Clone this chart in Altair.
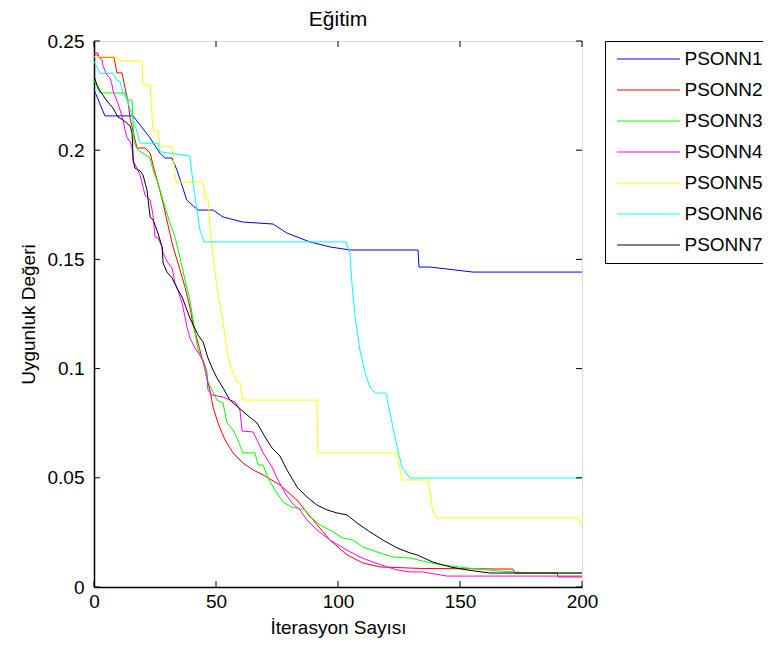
import altair as alt
import pandas as pd

series_names = ["PSONN1", "PSONN2", "PSONN3", "PSONN4", "PSONN5", "PSONN6", "PSONN7"]
colors = ["#0000ff", "#ff0000", "#00ff00", "#ff00ff", "#ffff00", "#00ffff", "#000000"]

x_ticks = [0, 50, 100, 150, 200]
y_ticks = [0, 0.05, 0.1, 0.15, 0.2, 0.25]

p1_x = [0, 4.5, 16, 18.9, 23, 27, 29, 32, 34, 38, 42.6, 48.8, 52.9, 61, 73.4, 79, 88.5, 96.7, 105, 132.8, 133.2, 137.7, 144.7, 155.3, 200]
p1_y = [0.2277, 0.2157, 0.2157, 0.2115, 0.2056, 0.1987, 0.1964, 0.1964, 0.1909, 0.1772, 0.1726, 0.1726, 0.1694, 0.1671, 0.1662, 0.1621, 0.158, 0.1557, 0.1543, 0.1543, 0.1465, 0.1465, 0.1456, 0.1442, 0.1442]

p2_x = [0, 1.6, 2, 8.2, 9.4, 11.5, 12.7, 13.9, 14.8, 16, 17.6, 20.9, 23, 24.2, 26.2, 28.3, 30.3, 32.4, 34.4, 37.3, 39.3, 40.6, 43.4, 45.5, 47.5, 48.8, 50.8, 53.7, 57, 61, 65.2, 69.3, 76.2, 83.2, 89.8, 96.7, 103.7, 110.2, 117.2, 133.6, 171.7, 172.5, 189.8, 190.2, 200]
p2_y = [0.2445, 0.2445, 0.2425, 0.2425, 0.2354, 0.2354, 0.2285, 0.2225, 0.2147, 0.2088, 0.201, 0.201, 0.1987, 0.1932, 0.185, 0.1758, 0.1658, 0.1557, 0.1484, 0.1374, 0.1282, 0.12, 0.1085, 0.0994, 0.0902, 0.0824, 0.0751, 0.0673, 0.0614, 0.0568, 0.0536, 0.0513, 0.0467, 0.0398, 0.0307, 0.0215, 0.0147, 0.011, 0.0092, 0.0085, 0.0082, 0.0064, 0.0064, 0.0046, 0.0046]

p3_x = [0, 2.5, 12.7, 13.9, 15.6, 16.4, 18, 23, 24.2, 26.2, 29.1, 31.1, 33.2, 35.2, 37.3, 39.3, 40.6, 42.6, 44.7, 46.3, 48.4, 50.4, 52.9, 54.5, 57, 59, 61, 66, 67.2, 69.3, 71.3, 74.2, 77.5, 81.1, 86.5, 87.7, 92.6, 96.7, 102, 106.1, 110.2, 117.2, 122.5, 129.5, 136.5, 143, 152.9, 166.4, 178.7, 200]
p3_y = [0.2321, 0.2262, 0.2262, 0.223, 0.223, 0.2033, 0.2001, 0.1964, 0.1909, 0.185, 0.174, 0.1667, 0.1603, 0.1511, 0.1406, 0.1314, 0.1223, 0.1085, 0.1039, 0.0948, 0.0902, 0.0856, 0.0842, 0.0751, 0.0719, 0.0673, 0.0614, 0.0614, 0.0559, 0.0559, 0.0499, 0.0444, 0.0389, 0.0366, 0.0353, 0.033, 0.0284, 0.0261, 0.0224, 0.0215, 0.0183, 0.0156, 0.0137, 0.0133, 0.0114, 0.0101, 0.0087, 0.0073, 0.0064, 0.0064]

p4_x = [0, 1.6, 3.3, 3.7, 5.3, 6.6, 7.4, 7.8, 8.6, 9.8, 10.7, 11.9, 12.7, 13.5, 14.8, 15.6, 16, 17.6, 18.9, 20.9, 23, 24.2, 25, 26.2, 27.9, 28.3, 30.3, 32, 33.2, 34.4, 36.1, 37.3, 38.1, 39.3, 41.4, 43.4, 45.5, 46.3, 46.7, 48.4, 52.9, 55.7, 57.8, 59.8, 60.7, 65.2, 67.2, 69.3, 73, 75.4, 78.3, 81.1, 84.4, 87.3, 91.4, 96.7, 103.7, 109, 114.3, 120.1, 124.2, 129.5, 134.8, 144.7, 200]
p4_y = [0.2445, 0.2431, 0.2413, 0.2385, 0.2344, 0.233, 0.2299, 0.2271, 0.2248, 0.2216, 0.2184, 0.2138, 0.2093, 0.2056, 0.2042, 0.201, 0.1951, 0.1918, 0.1886, 0.1795, 0.1772, 0.1703, 0.1603, 0.1598, 0.1557, 0.1529, 0.1484, 0.146, 0.1392, 0.136, 0.13, 0.1236, 0.119, 0.114, 0.1094, 0.1062, 0.1016, 0.098, 0.0902, 0.0879, 0.087, 0.0856, 0.0847, 0.081, 0.0714, 0.071, 0.0664, 0.0614, 0.0549, 0.049, 0.043, 0.0385, 0.0353, 0.0307, 0.0261, 0.0215, 0.0169, 0.0137, 0.0114, 0.0092, 0.0078, 0.0069, 0.0069, 0.005, 0.005]

p5_x = [0, 9.4, 10.7, 19.7, 20.1, 23, 24.2, 26.2, 27, 32, 33.6, 44.7, 45.5, 46.7, 47.5, 48.8, 50.8, 52.5, 52.9, 54.9, 57, 58.6, 59.8, 61, 91.4, 91.8, 124.2, 126.2, 136.9, 138.9, 140.6, 198.4, 200]
p5_y = [0.2427, 0.2427, 0.2408, 0.2408, 0.2299, 0.2299, 0.2088, 0.2088, 0.2015, 0.2015, 0.1854, 0.1854, 0.1781, 0.1781, 0.1648, 0.1511, 0.1346, 0.1236, 0.1209, 0.1053, 0.098, 0.0939, 0.0939, 0.0856, 0.0856, 0.0614, 0.0614, 0.049, 0.049, 0.0343, 0.0316, 0.0316, 0.0275]

p6_x = [0, 2.5, 7.8, 9.4, 10.7, 11.9, 13.5, 15.6, 16.8, 18.9, 26.2, 27, 39.3, 40.6, 42.2, 43.4, 45.1, 103.3, 104.9, 105.7, 107, 109, 111.1, 113.1, 115.2, 119.7, 121.3, 124.2, 126.2, 129.5, 200]
p6_y = [0.2408, 0.2352, 0.2352, 0.2321, 0.2314, 0.2261, 0.223, 0.2161, 0.2115, 0.2032, 0.2032, 0.1993, 0.1973, 0.185, 0.1726, 0.1635, 0.158, 0.158, 0.1529, 0.1392, 0.1236, 0.1085, 0.098, 0.0916, 0.0888, 0.0888, 0.0797, 0.0641, 0.0549, 0.0499, 0.0499]

p7_x = [0, 1.2, 2.5, 5.3, 7.8, 9.8, 11.9, 14.8, 15.6, 16.1, 16.8, 18.9, 20.1, 21.7, 23, 24.2, 26.2, 27.9, 28.3, 29.9, 32, 34.4, 36.1, 38.1, 39.3, 42.6, 44.7, 46.7, 48.4, 50.4, 52.9, 55.7, 59, 62.7, 66.8, 70.1, 73, 76.2, 79.1, 83.2, 87.3, 91.4, 95.5, 99.6, 103.7, 107.8, 113.1, 118.4, 124.2, 129.5, 132.4, 138.9, 145.9, 152.9, 162.3, 200]
p7_y = [0.234, 0.2299, 0.2271, 0.2225, 0.2193, 0.2152, 0.2138, 0.2111, 0.2079, 0.1951, 0.1918, 0.1905, 0.1886, 0.1819, 0.1694, 0.1681, 0.1621, 0.1557, 0.1484, 0.1442, 0.1415, 0.136, 0.1328, 0.1268, 0.1232, 0.1154, 0.1122, 0.1049, 0.1003, 0.0957, 0.0911, 0.0856, 0.0824, 0.0788, 0.0751, 0.0687, 0.0636, 0.06, 0.0536, 0.0458, 0.0412, 0.0375, 0.0353, 0.0339, 0.033, 0.0293, 0.0252, 0.0215, 0.0179, 0.0156, 0.0147, 0.0114, 0.0092, 0.0078, 0.0064, 0.0064]

all_x = [p1_x, p2_x, p3_x, p4_x, p5_x, p6_x, p7_x]
all_y = [p1_y, p2_y, p3_y, p4_y, p5_y, p6_y, p7_y]

rows = []
for name, xs, ys in zip(series_names, all_x, all_y):
    assert len(xs) == len(ys), name
    for i, (a, b) in enumerate(zip(xs, ys)):
        rows.append({"series": name, "iter": a, "fit": b, "idx": i})
df = pd.DataFrame(rows)

W, H = 488, 546
FONT = "Liberation Sans"
FS = 19

xscale = alt.Scale(domain=[0, 200], nice=False, zero=False)
yscale = alt.Scale(domain=[0, 0.25], nice=False, zero=False)

common = dict(ticks=False, grid=False, domainColor="black", domainWidth=1.5, labelFlush=False,
              labelFont=FONT, labelFontSize=FS, labelColor="black",
              titleFont=FONT, titleFontSize=FS, titleFontWeight="normal", titleColor="black")
x_axis = alt.Axis(values=x_ticks, title="İterasyon Sayısı", labelPadding=5, titlePadding=7, **common)
y_axis = alt.Axis(values=y_ticks, title="Uygunluk Değeri", format="~g",
                  labelPadding=10, titlePadding=9, **common)

lines = alt.Chart(df).mark_line(strokeWidth=1, clip=True).encode(
    x=alt.X("iter:Q", scale=xscale, axis=x_axis),
    y=alt.Y("fit:Q", scale=yscale, axis=y_axis),
    color=alt.Color("series:N", scale=alt.Scale(domain=series_names, range=colors),
                    legend=alt.Legend(title=None, orient="none", legendX=511, legendY=0,
                                      symbolType="M-3.316,0L3.316,0", symbolSize=361,
                                      symbolStrokeWidth=1, symbolOffset=25.5,
                                      symbolFillColor="transparent",
                                      labelFontSize=FS, labelFont=FONT, labelColor="black",
                                      labelOffset=26,
                                      strokeColor="black", fillColor="white", padding=8,
                                      rowPadding=11, cornerRadius=0)),
    order=alt.Order("idx:Q"),
)

xt = pd.DataFrame({"t": x_ticks})
yt = pd.DataFrame({"t": y_ticks})
bottom_ticks = alt.Chart(xt).mark_rule(color="black", strokeWidth=1).encode(
    x=alt.X("t:Q", scale=xscale, axis=x_axis), y=alt.value(H), y2=alt.value(H - 6))
top_ticks = alt.Chart(xt).mark_rule(color="black", strokeWidth=1).encode(
    x=alt.X("t:Q", scale=xscale, axis=x_axis), y=alt.value(0), y2=alt.value(6))
left_ticks = alt.Chart(yt).mark_rule(color="black", strokeWidth=1).encode(
    y=alt.Y("t:Q", scale=yscale, axis=y_axis), x=alt.value(0), x2=alt.value(6))
right_ticks = alt.Chart(yt).mark_rule(color="black", strokeWidth=1).encode(
    y=alt.Y("t:Q", scale=yscale, axis=y_axis), x=alt.value(W), x2=alt.value(W - 6))

chart = alt.layer(lines, bottom_ticks, top_ticks, left_ticks, right_ticks).properties(
    width=W, height=H,
    title=alt.TitleParams("Eğitim", fontSize=21, fontWeight="normal", font=FONT, color="black",
                          offset=2, anchor="middle", frame="group"),
    padding={"left": 86, "top": 33, "right": 181, "bottom": 51},
    autosize=alt.AutoSizeParams(type="none"),
).configure_view(stroke="black", strokeWidth=1.5).configure(background="white")

chart.save("out.html", embed_options={"renderer": "svg", "actions": False})
